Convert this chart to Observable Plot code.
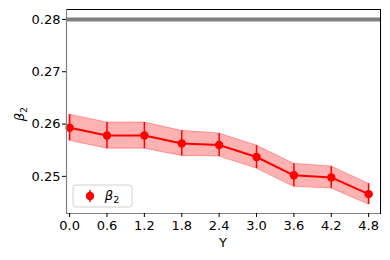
<!DOCTYPE html>
<html><head><meta charset="utf-8">
<script src="https://cdn.jsdelivr.net/npm/d3@7"></script>
<script src="https://cdn.jsdelivr.net/npm/@observablehq/plot@0.6"></script>
<style>
body{margin:0;background:#fff;}
#chart{position:relative;width:390px;height:260px;}
</style></head>
<body><div id="chart"></div>
<script>
const yValues = [0.0, 0.6, 1.2, 1.8, 2.4, 3.0, 3.6, 4.2, 4.8];
const beta2 = [0.2593, 0.2578, 0.2578, 0.2563, 0.2560, 0.2537, 0.2502, 0.2498, 0.2466];
const beta2Err = [0.0025, 0.0025, 0.0025, 0.0024, 0.0022, 0.0022, 0.0022, 0.0021, 0.0020];
const referenceLine = [0.28];
const xTicks = [0.0, 0.6, 1.2, 1.8, 2.4, 3.0, 3.6, 4.2, 4.8];
const yTicks = [0.25, 0.26, 0.27, 0.28];
const xDomain = [-0.05, 4.99];
const yDomain = [0.2429, 0.2819];

const data = yValues.map((x, i) => ({x, y: beta2[i], lo: beta2[i] - beta2Err[i], hi: beta2[i] + beta2Err[i]}));
const font = "DejaVu Sans, sans-serif";

const plot = Plot.plot({
  width: 390, height: 260,
  marginLeft: 66, marginRight: 10, marginTop: 9, marginBottom: 47,
  style: {fontFamily: font, fontSize: "13px", color: "#000", background: "#fff"},
  x: {domain: xDomain},
  y: {domain: yDomain},
  marks: [
    Plot.areaY(data, {x: "x", y1: "lo", y2: "hi", fill: "red", fillOpacity: 0.3, stroke: "red", strokeOpacity: 0.3, strokeWidth: 1}),
    Plot.ruleY(referenceLine, {stroke: "#808080", strokeWidth: 4}),
    Plot.ruleX(data, {x: "x", y1: "lo", y2: "hi", stroke: "red", strokeWidth: 1.5}),
    Plot.line(data, {x: "x", y: "y", stroke: "red", strokeWidth: 2}),
    Plot.dot(data, {x: "x", y: "y", r: 4.2, fill: "red", stroke: "none"}),
    Plot.frame({stroke: "#000", strokeWidth: 1}),
    Plot.ruleX([xDomain[0]], {stroke: "#808080", strokeWidth: 1.2}),
    Plot.ruleY([yDomain[0]], {stroke: "#808080", strokeWidth: 1.2}),
    Plot.axisX({ticks: xTicks, tickFormat: d3.format(".1f"), tickSize: 4, tickPadding: 3, label: null, fontSize: 13}),
    Plot.axisY({ticks: yTicks, tickFormat: d3.format(".2f"), tickSize: 4, tickPadding: 2, label: null, fontSize: 13})
  ]
});
document.getElementById("chart").appendChild(plot);

const svg = d3.select(plot);
// axis titles
svg.append("text").attr("x", 223).attr("y", 247).attr("text-anchor", "middle")
  .attr("font-family", font).attr("font-size", 13).attr("fill", "#000").text("Y");
const yl = svg.append("text").attr("transform", "translate(24,114) rotate(-90)").attr("text-anchor", "middle")
  .attr("font-family", font).attr("font-size", 13).attr("fill", "#000");
yl.append("tspan").attr("font-style", "italic").text("β");
yl.append("tspan").attr("font-size", 9.5).attr("dy", 3).text("2");

// legend
const lg = svg.append("g");
lg.append("rect").attr("x", 73).attr("y", 185).attr("width", 59).attr("height", 22).attr("rx", 3)
  .attr("fill", "#fff").attr("fill-opacity", 0.8).attr("stroke", "#d0d0d0").attr("stroke-width", 1);
lg.append("line").attr("x1", 90).attr("x2", 90).attr("y1", 190).attr("y2", 202).attr("stroke", "red").attr("stroke-width", 1.5);
lg.append("circle").attr("cx", 90).attr("cy", 196).attr("r", 4.2).attr("fill", "red");
const lt = lg.append("text").attr("x", 112).attr("y", 200).attr("font-family", font).attr("font-size", 13).attr("fill", "#000");
lt.append("tspan").attr("font-style", "italic").text("β");
lt.append("tspan").attr("font-size", 9.5).attr("dy", 3).text("2");
</script></body></html>
